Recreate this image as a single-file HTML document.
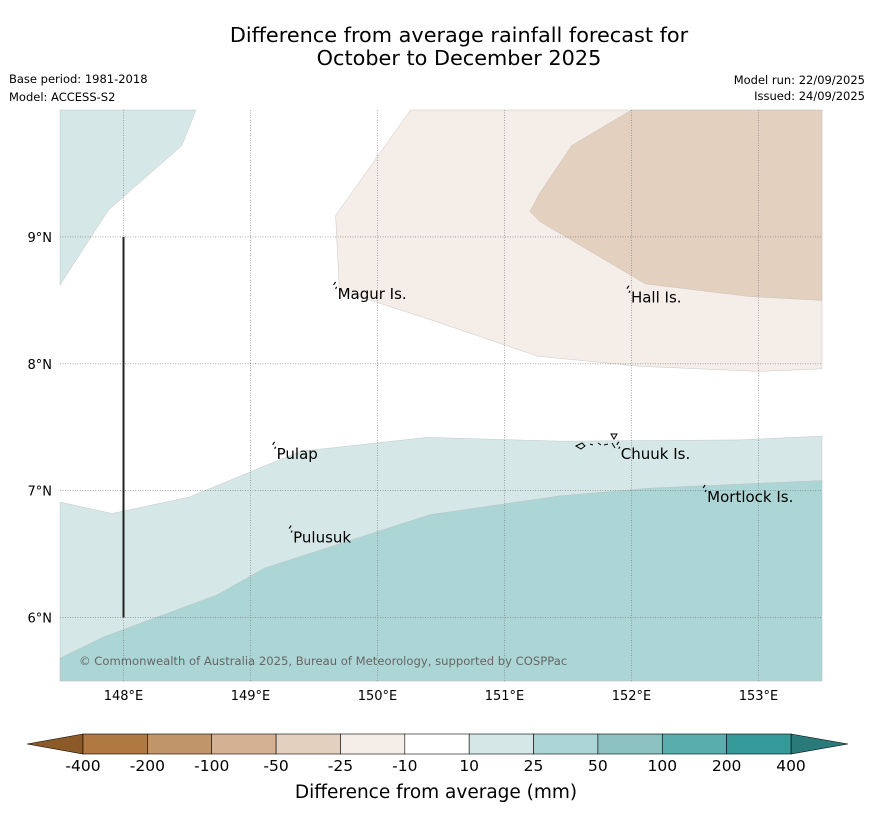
<!DOCTYPE html>
<html><head><meta charset="utf-8"><style>
body{margin:0;background:#fff;font-family:"DejaVu Sans","Liberation Sans",sans-serif;}
svg{display:block}
</style></head><body>
<svg id="chart" width="873" height="816" viewBox="0 0 873 816" xmlns="http://www.w3.org/2000/svg" font-family="DejaVu Sans, Liberation Sans, sans-serif">
<text x="459" y="42" font-size="20.8" text-anchor="middle">Difference from average rainfall forecast for</text>
<text x="459" y="65" font-size="20.8" text-anchor="middle">October to December 2025</text>
<text x="9" y="83" font-size="11.5">Base period: 1981-2018</text>
<text x="9" y="101" font-size="11.5">Model: ACCESS-S2</text>
<text x="865" y="84" font-size="11.5" text-anchor="end">Model run: 22/09/2025</text>
<text x="865" y="100" font-size="11.5" text-anchor="end">Issued: 24/09/2025</text>
<g id="map"></g>
<g id="cbar"></g>
<text x="436" y="798" font-size="18.5" text-anchor="middle">Difference from average (mm)</text>
</svg>
<script>
const lonTicks=[148,149,150,151,152,153];
const latTicks=[9,8,7,6];
const contourTealNW=[[147.5,10],[148.57,10],[148.46,9.72],[147.88,9.21],[147.5,8.62]];
const contourDry25=[[150.26,10],[153.5,10],[153.5,7.96],[153.01,7.94],[152.07,7.98],[151.26,8.06],[150.41,8.35],[149.70,8.58],[149.67,9.17]];
const contourDry50=[[152.0,10],[153.5,10],[153.5,8.50],[152.93,8.53],[152.11,8.63],[151.28,9.12],[151.20,9.20],[151.28,9.35],[151.53,9.72]];
const contourWet10=[[147.5,6.91],[147.91,6.82],[148.52,6.95],[149.39,7.31],[150.39,7.42],[151.44,7.39],[152.85,7.40],[153.5,7.43],[153.5,5.5],[147.5,5.5]];
const contourWet25=[[147.5,5.68],[147.85,5.85],[148.74,6.18],[149.11,6.39],[150.41,6.81],[151.44,6.96],[152.15,7.02],[153.5,7.08],[153.5,5.5],[147.5,5.5]];
const places=["Magur Is.","Hall Is.","Pulap","Chuuk Is.","Mortlock Is.","Pulusuk"];
const placeLon=[149.67,151.98,149.19,151.90,152.58,149.32];
const placeLat=[8.59,8.56,7.33,7.33,6.99,6.67];
const cbarLabels=["-400","-200","-100","-50","-25","-10","10","25","50","100","200","400"];
const cbarColors=["#b07941","#c1956a","#d3b192","#e3d0bf","#f4ede8","#ffffff","#d5e8e7","#acd6d5","#8cc2c1","#5aadad","#35999a"];
const NS="http://www.w3.org/2000/svg";
const X0=60,X1=822,Y0=110,Y1=681,LON0=147.5,LON1=153.5,LAT0=5.5,LAT1=10;
const xs=l=>X0+(l-LON0)/(LON1-LON0)*(X1-X0);
const ys=l=>Y1-(l-LAT0)/(LAT1-LAT0)*(Y1-Y0);
function mk(t,a,p){const e=document.createElementNS(NS,t);for(const k in a)e.setAttribute(k,a[k]);p.appendChild(e);return e;}
const map=document.getElementById('map');
function poly(pts,fill,name){const e=mk('polygon',{points:pts.map(p=>xs(p[0])+','+ys(p[1])).join(' '),fill:fill,stroke:'#bbb','stroke-width':0.4},map);

}
poly(contourTealNW,'#d5e8e7','wet-10-25-nw');
poly(contourDry25,'#f4ede8','dry-25-10-region');
poly(contourDry50,'#e3d0bf','dry-50-25-region');
poly(contourWet10,'#d5e8e7','wet-10-25-region');
poly(contourWet25,'#acd6d5','wet-25-50-region');
lonTicks.forEach(l=>{const x=xs(l);
const g=mk('line',{x1:x,x2:x,y1:Y0,y2:Y1,stroke:'#777','stroke-width':0.6,'stroke-dasharray':'1,1.5'},map);


const t=mk('text',{x:x,y:700,'font-size':13,'text-anchor':'middle'},map);t.textContent=l+'°E';

});
latTicks.forEach(l=>{const y=ys(l);
const g=mk('line',{x1:X0,x2:X1,y1:y,y2:y,stroke:'#777','stroke-width':0.6,'stroke-dasharray':'1,1.5'},map);


const t=mk('text',{x:52,y:y+5,'font-size':13,'text-anchor':'end'},map);t.textContent=l+'°N';

});
const vl=mk('line',{x1:xs(148),x2:xs(148),y1:ys(9),y2:ys(6),stroke:'#222','stroke-width':2},map);


places.forEach((p,i)=>{const x=xs(placeLon[i]),y=ys(placeLat[i]);
const m=mk('path',{d:`M${x-2},${y-4} l2,-3 M${x},${y} l1,-2`,stroke:'#000','stroke-width':1.2,fill:'none'},map);


const t=mk('text',{x:x+2,y:y+10,'font-size':15},map);t.textContent=p;

});
const ch=mk('path',{d:'M576,446 l6,-3 l3,3 l-4,3 z M590,444 l3,1 M598,443 l3,2 M604,445 l4,-1 M611,434 l6,0 l-3,5 z M612,443 l3,5',stroke:'#000','stroke-width':1,fill:'none'},map);


const cp=mk('text',{x:79,y:665,'font-size':11.6,fill:'#666'},map);cp.textContent='© Commonwealth of Australia 2025, Bureau of Meteorology, supported by COSPPac';


const cb=document.getElementById('cbar');
const CX0=83,CX1=791,CY0=734,CY1=754,w=(CX1-CX0)/cbarColors.length;
const lt=mk('polygon',{points:`${CX0},${CY0} 27,744 ${CX0},${CY1}`,fill:'#8c5a28',stroke:'#000','stroke-width':0.6},cb);


const rt=mk('polygon',{points:`${CX1},${CY0} 848,744 ${CX1},${CY1}`,fill:'#2a7a7a',stroke:'#000','stroke-width':0.6},cb);


cbarColors.forEach((c,i)=>{const r=mk('rect',{x:CX0+i*w,y:CY0,width:w,height:CY1-CY0,fill:c,stroke:'#000','stroke-width':0.6},cb);

});
cbarLabels.forEach((l,i)=>{const t=mk('text',{x:CX0+i*w,y:771,'font-size':15.5,'text-anchor':'middle'},cb);t.textContent=l;

});
</script>
</body></html>
